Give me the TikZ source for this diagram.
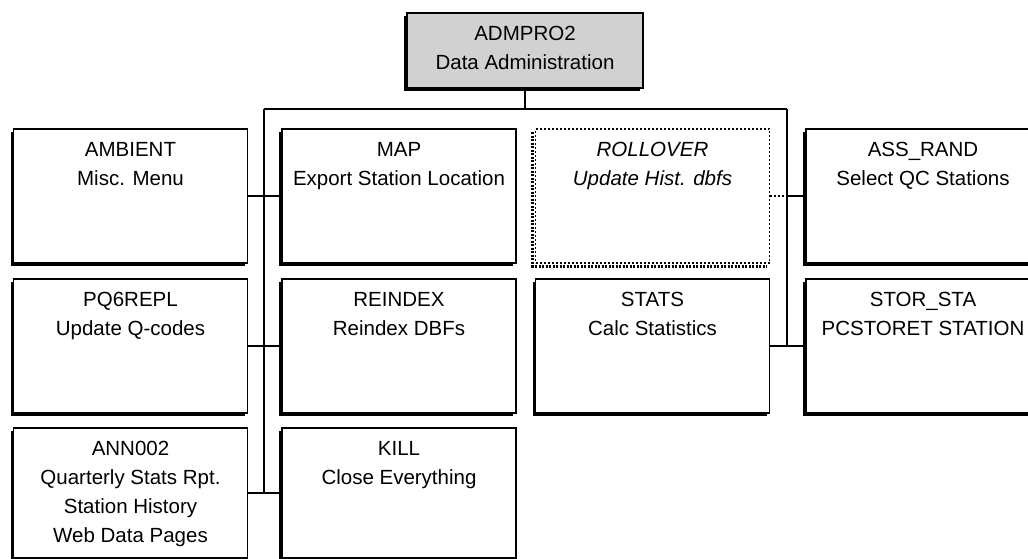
\documentclass[tikz,border=0pt]{standalone}
\usepackage{fontspec}
\setmainfont{Liberation Sans}
\usetikzlibrary{shadows}
\begin{document}
\begin{tikzpicture}[x=1pt,y=-1pt,
  box/.style={draw=black, line width=1.3pt, fill=white, minimum width=234pt, minimum height=134pt, inner sep=0pt,
    drop shadow={shadow xshift=-3pt, shadow yshift=-3pt, fill=black, opacity=1}},
  dotbox/.style={draw=black, line width=1.7pt, dash pattern=on 2pt off 2pt, fill=white, minimum width=234pt, minimum height=134pt, inner sep=0pt},
  lbl/.style={anchor=north, inner sep=0pt, align=center, font=\fontsize{20.5}{29}\selectfont},
  conn/.style={line width=1.4pt}]
\useasboundingbox (0,0) rectangle (1028,559);
\clip (0,0) rectangle (1028,559);
\fill[white] (0,0) rectangle (1028,559);

% top box
\node[box, fill=black!18, minimum width=236pt, minimum height=75pt] (adm) at (525,50.5) {};
\node[lbl] (admT) at ([yshift=-14pt]adm.north) {ADMPRO2\\Data Administration};

% row 1
\node[box] (amb) at (130.5,196) {};
\node[box] (map) at (399,196) {};
\node[dotbox] (roll) at (652.5,196) {};
\node[box] (ass) at (923,196) {};
% row 2
\node[box] (pq6) at (130.5,346) {};
\node[box] (reidx) at (399,346) {};
\node[box] (stats) at (652.5,346) {};
\node[box] (stor) at (923,346) {};
% row 3
\node[box, minimum height=130pt] (ann) at (130.5,493) {};
\node[box, minimum height=130pt] (kill) at (399,493) {};

% dotted shadow of ROLLOVER
\draw[line width=3pt, dash pattern=on 2pt off 1.5pt]
  ([xshift=-2.2pt,yshift=-4pt]roll.north west) -- ([xshift=-2.2pt,yshift=-2.2pt]roll.south west)
  -- ([xshift=-4pt,yshift=-2.2pt]roll.south east);

% labels
\node[lbl] (ambT) at ([yshift=-14pt]amb.north) {AMBIENT\\Misc. Menu};
\node[lbl] (mapT) at ([yshift=-14pt]map.north) {MAP\\Export Station Location};
\node[lbl, font=\fontsize{20.5}{29}\selectfont\itshape] (rollT) at ([yshift=-14pt]roll.north) {ROLLOVER\\Update Hist. dbfs};
\node[lbl] (assT) at ([yshift=-14pt]ass.north) {ASS\_RAND\\Select QC Stations};
\node[lbl] (pq6T) at ([yshift=-14pt]pq6.north) {PQ6REPL\\Update Q-codes};
\node[lbl] (reidxT) at ([yshift=-14pt]reidx.north) {REINDEX\\Reindex DBFs};
\node[lbl] (statsT) at ([yshift=-14pt]stats.north) {STATS\\Calc Statistics};
\node[lbl] (storT) at ([yshift=-14pt]stor.north) {STOR\_STA\\PCSTORET STATION};
\node[lbl] (annT) at ([yshift=-14pt]ann.north) {ANN002\\Quarterly Stats Rpt.\\Station History\\Web Data Pages};
\node[lbl] (killT) at ([yshift=-14pt]kill.north) {KILL\\Close Everything};

% connectors
\coordinate (busL) at (264,109);
\coordinate (busR) at (787,109);
\draw[conn] (adm.south) -- (adm.south |- busL);
\draw[conn] (busL) -- (busR);
\draw[conn] (busL) -- (busL |- ann.east);
\draw[conn] (busR) -- (busR |- stor.west);
\draw[conn] (amb.east) -- (map.west);
\draw[conn] (pq6.east) -- (reidx.west);
\draw[conn] (ann.east) -- (kill.west);
\draw[conn] (stats.east) -- (stor.west);
\draw[conn, dash pattern=on 2pt off 2pt] (roll.east) -- (busR |- roll.east);
\draw[conn] (busR |- ass.west) -- (ass.west);
\end{tikzpicture}
\end{document}
